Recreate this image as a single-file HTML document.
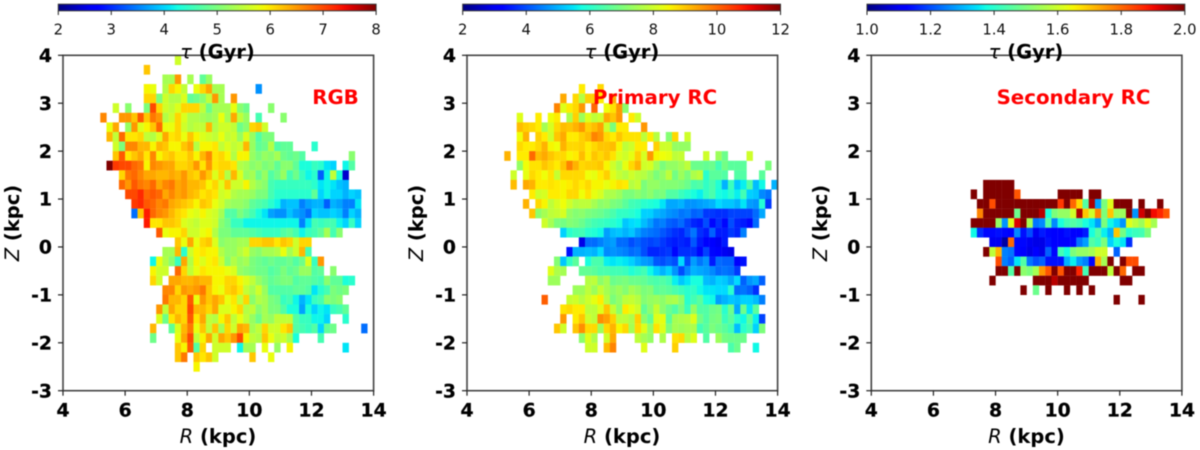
<!DOCTYPE html>
<html>
<head>
<meta charset="utf-8">
<title>Age maps</title>
<style>
html,body{margin:0;padding:0;background:#fff;width:1200px;height:450px;overflow:hidden}
svg{display:block;font-family:"DejaVu Sans","Liberation Sans",sans-serif;filter:blur(0.4px)}
.tk{font-weight:700;font-size:18.8px;fill:#000;stroke:#000;stroke-width:.25px}
.cb{font-size:14.8px;fill:#111}
.lb{font-weight:700;font-size:19.5px;fill:#000}
.it{font-style:italic;font-weight:400}
.tag{font-weight:700;font-size:19.8px;fill:#f00}
</style>
</head>
<body>
<svg id="chart" xmlns="http://www.w3.org/2000/svg" width="1200" height="450" viewBox="0 0 1200 450">
  <rect x="0" y="0" width="1200" height="450" fill="#fff"/>
  <defs id="defs"></defs>
  <g id="marks"></g>

  <text class="lb" x="217.5" y="58.5" text-anchor="middle"><tspan class="it">τ</tspan> (Gyr)</text>
  <text class="lb" x="622" y="58.5" text-anchor="middle"><tspan class="it">τ</tspan> (Gyr)</text>
  <text class="lb" x="1026" y="58.5" text-anchor="middle"><tspan class="it">τ</tspan> (Gyr)</text>

  <text class="lb" x="218" y="443" text-anchor="middle"><tspan class="it">R</tspan> (kpc)</text>
  <text class="lb" x="622" y="443" text-anchor="middle"><tspan class="it">R</tspan> (kpc)</text>
  <text class="lb" x="1026.5" y="443" text-anchor="middle"><tspan class="it">R</tspan> (kpc)</text>

  <text class="lb" transform="translate(19,223) rotate(-90)" text-anchor="middle"><tspan class="it">Z</tspan> (kpc)</text>
  <text class="lb" transform="translate(423,223) rotate(-90)" text-anchor="middle"><tspan class="it">Z</tspan> (kpc)</text>
  <text class="lb" transform="translate(827,223) rotate(-90)" text-anchor="middle"><tspan class="it">Z</tspan> (kpc)</text>

  <text class="tag" x="335.5" y="104" text-anchor="middle">RGB</text>
  <text class="tag" x="655" y="104" text-anchor="middle">Primary RC</text>
  <text class="tag" x="1073.5" y="104" text-anchor="middle">Secondary RC</text>
</svg>
<script>
const _ = null;
const rTicks = [4, 6, 8, 10, 12, 14];
const zTicks = [4, 3, 2, 1, 0, -1, -2, -3];
const rgbBarTicks = [2, 3, 4, 5, 6, 7, 8];
const primaryBarTicks = [2, 4, 6, 8, 10, 12];
const secondaryBarTicks = ["1.0", "1.2", "1.4", "1.6", "1.8", "2.0"];

// Row i covers Z = 4 - 0.2*i downward; first entry of each row sits at R bin given by *FirstBin (R = 4 + 0.2*bin)
const rgbFirstBin = [18,13,16,13,13,8,6,7,7,8,8,7,9,9,10,11,11,13,15,18,16,14,14,14,16,16,15,15,14,14,18,18,21];
const rgbTau = [
[5.6],
[6.2],
[5.3,5.3,6.5,_,5.3,_,4.8,5.2],
[5.9,5.8,_,5.4,6.1,5.9,5.5,_,5.8,6.1,6.4,5.3,5.3,_,_,_,_,_,3.6],
[6.1,6.1,5.0,5.6,5.4,5.4,5.7,4.8,4.9,5.1,5.5,6.5,5.3,_,6.5],
[5.6,_,5.1,_,_,5.0,7.0,6.1,5.6,5.5,5.7,6.1,6.1,6.1,5.5,4.9,5.3,5.3,5.3,5.8,5.1,4.9,_,_,_,5.1],
[6.6,_,_,6.5,6.5,6.2,6.9,6.2,6.7,6.5,5.4,5.6,6.1,5.7,5.4,5.4,5.3,5.2,5.3,5.8,5.3,6.4,5.5,5.2,_,4.6,_,_,_,5.1],
[5.8,6.4,_,5.2,6.5,5.7,5.9,6.2,6.8,5.8,5.8,6.1,5.6,5.4,5.5,5.5,6.3,5.4,5.6,5.6,5.5,4.9,5.1,6.1,6.2,5.6],
[6.3,5.5,6.8,6.0,6.0,6.1,5.5,5.4,5.7,6.4,6.0,6.1,5.8,6.2,5.9,5.7,5.6,5.5,5.8,5.5,5.6,5.2,5.7,5.2,4.7,5.0,5.0],
[5.6,5.0,6.6,6.6,6.3,6.3,5.9,6.3,6.2,5.9,5.9,6.2,6.4,5.4,5.9,5.9,6.0,5.5,5.7,5.5,5.6,6.3,5.2,4.8,4.9,5.4,4.7,4.8,4.8,_,_,_,4.4],
[6.2,6.9,6.0,6.2,6.4,6.0,6.6,5.9,6.1,6.2,6.0,6.0,6.2,5.9,6.3,6.6,6.0,6.1,5.9,5.4,5.9,5.9,5.2,5.0,5.2,5.1,5.3,4.9,4.8,4.9,4.7,_,_,_,_,_,_,_,5.1],
[8.0,7.1,7.0,7.0,6.8,6.7,5.9,6.6,6.5,6.4,6.4,6.1,6.1,6.2,6.5,6.0,6.5,6.0,6.1,6.1,6.0,5.4,5.3,5.1,5.2,5.0,5.1,4.8,5.1,5.1,4.8,4.3,4.3,4.5,4.4,4.1,4.0,_,4.2,4.7],
[6.1,6.7,6.8,6.6,6.4,6.4,6.3,6.3,6.4,6.3,6.5,6.2,6.1,6.5,6.2,5.7,6.1,5.4,6.3,5.7,5.2,5.3,4.9,5.2,4.7,4.9,5.2,4.6,4.9,4.5,4.2,4.4,3.3,4.2,5.5,4.3,2.4],
[6.8,6.5,6.9,6.7,6.6,6.8,6.4,6.6,6.7,6.4,6.5,6.3,6.3,6.2,5.9,6.1,5.7,6.2,5.6,5.6,5.9,5.4,5.2,5.1,4.6,4.5,4.5,4.5,4.5,4.5,4.5,4.4,4.1,4.2,4.1,3.9,3.8],
[7.0,7.0,7.2,6.8,6.9,6.8,6.4,6.6,6.4,6.5,6.3,6.2,6.0,6.1,6.0,5.6,5.7,5.4,5.3,5.3,5.2,5.0,5.0,4.6,4.4,4.4,4.4,4.4,4.4,4.4,4.8,4.0,4.2,4.0,4.0,3.8,4.0,3.9],
[7.1,7.2,6.9,6.8,6.6,6.7,6.4,6.3,6.2,6.1,5.9,6.2,6.1,5.8,5.6,5.3,5.2,5.2,5.1,4.8,4.7,4.6,4.4,4.2,3.8,3.9,3.9,3.5,3.7,3.8,3.8,3.3,3.8,3.7,3.5,3.5,4.1],
[3.4,6.2,7.3,6.8,6.6,6.5,6.3,6.1,6.0,5.8,5.7,5.9,5.7,5.6,5.3,4.7,4.7,5.0,4.8,4.6,4.3,4.1,3.7,3.6,3.6,3.9,3.7,3.6,3.4,4.0,3.9,3.9,4.0,3.9,3.5,4.0,3.8],
[7.3,6.0,6.0,6.2,6.2,6.1,5.7,5.6,5.5,5.7,5.7,5.6,5.1,4.9,4.5,4.5,4.2,4.2,4.2,4.2,4.2,4.2,4.2,4.2,4.2,3.5,4.1,4.6,4.5,4.6,4.6,4.2,4.0,4.5,4.0],
[6.9,5.8,5.9,5.9,6.1,5.6,5.6,5.8,5.9,5.4,5.0,5.0,4.8,4.8,4.8,4.7,4.6,4.5,4.5,4.5,4.7,4.8,4.6,4.2,4.5,4.6,4.8,5.3,4.6,5.1],
[6.2,5.8,6.4,5.8,6.1,6.2,5.7,5.1,5.2,5.2,5.3,5.3,6.1,6.1,6.2,6.2,6.0,6.2,6.1,5.6,6.1,6.1],
[5.3,5.3,6.3,4.4,5.6,5.9,6.0,5.9,5.9,5.4,5.2,5.2,5.4,5.6,5.2,5.1,5.3,5.3,5.4,5.8,5.3,5.6,6.3,4.6],
[4.2,5.8,5.4,5.1,4.5,6.4,5.4,5.9,5.7,5.9,6.0,5.6,5.1,5.4,5.2,5.3,5.0,4.9,4.8,4.9,4.8,4.8,4.9,4.7,4.9,5.7,4.5,6.5],
[5.9,5.6,5.6,_,6.8,6.1,5.5,5.8,6.0,5.9,5.9,5.9,5.8,5.7,5.2,5.1,5.0,4.9,4.9,4.7,4.8,5.0,4.8,4.9,5.2,5.2,4.7,4.8,_,5.1],
[6.1,5.6,_,6.4,6.4,6.3,6.3,6.4,6.3,6.3,5.9,5.9,6.1,6.1,5.9,5.7,5.5,5.2,5.0,4.8,4.9,5.0,5.0,4.7,4.8,4.8,4.7,4.6,5.1,4.8,4.8,4.3,4.4],
[6.6,6.6,6.1,6.5,6.4,6.5,6.7,6.2,5.9,5.8,6.1,6.2,6.0,5.5,5.3,5.6,5.2,4.7,4.7,4.7,4.7,4.8,4.8,4.7,4.1,4.4,4.6,5.0,4.9,5.0],
[6.7,6.3,6.3,6.1,6.9,5.8,6.5,6.2,6.4,6.2,5.8,6.0,5.5,6.1,5.1,5.4,5.3,5.0,4.9,4.5,4.6,4.2,3.8,4.1,4.5,4.6,5.1,5.0,5.1],
[6.5,5.5,6.4,6.1,6.1,7.0,6.3,6.3,6.1,6.4,5.7,5.7,5.9,6.1,5.4,5.5,5.1,5.3,5.0,5.0,4.7,4.3,4.3,3.7,4.3,4.0,4.2,4.1,4.5,4.6,4.8],
[5.7,4.9,6.0,6.3,6.1,6.9,6.0,6.4,5.5,5.4,5.9,6.2,5.5,5.8,5.5,5.2,4.9,5.3,5.2,5.5,5.5,5.5,4.7,4.5,4.5,4.2,4.2,4.0,_,_,4.4],
[6.3,_,_,4.8,5.7,6.3,6.7,5.8,6.2,5.5,6.2,5.3,6.1,5.6,6.4,6.3,5.3,5.5,6.1,5.6,5.6,6.0,6.2,4.7,4.6,4.5,4.7,4.0,4.8,4.9,_,_,_,_,3.4],
[4.9,_,_,_,5.8,6.4,7.0,5.5,5.9,6.4,5.6,6.4,6.2,6.5,7.0,5.9,5.5,5.4,6.2,5.8,5.5,5.6,5.3,4.3,_,_,_,4.6],
[6.2,5.9,6.9,4.7,6.1,_,5.6,5.6,5.6,_,4.2,5.3,5.3,_,5.8,_,5.2,_,5.9,_,_,_,_,_,_,_,_,4.1],
[6.2,6.7,_,6.2,6.0,6.2,5.6,_,_,_,_,_,6.2,_,_,5.8],
[5.9]
];

const primaryFirstBin = [0,0,0,18,15,14,8,8,8,8,6,8,7,7,10,9,10,12,15,18,16,14,13,13,17,12,15,15,14,18,19];
const primaryTau = [
[],
[],
[],
[8.6,_,_,8.8],
[9.3,_,8.8,7.7,8.9,8.9,8.6,_,9.3],
[9.7,8.2,8.6,8.8,9.5,_,10.0,_,8.4,8.7,9.5,7.2],
[8.2,_,_,8.6,_,8.4,8.6,_,7.6,8.9,7.4,8.2,7.8,8.0,9.3,9.0,9.5,_,8.6,8.0],
[9.1,8.9,8.8,8.6,7.5,8.1,8.8,9.1,9.0,9.2,9.5,8.9,9.1,9.4,8.0,7.0,8.6,8.6,_,_,9.5],
[8.4,9.2,_,8.9,8.6,8.0,9.0,9.3,8.6,8.6,8.9,9.1,9.7,9.5,8.8,8.6,9.0,8.7,8.7,8.7,7.8,8.6,7.7,_,7.1,8.8,_,8.0],
[8.8,8.6,8.6,8.8,9.2,8.5,8.4,9.2,8.8,8.8,8.9,8.6,8.8,9.0,9.0,9.1,8.5,7.8,8.0,8.6,8.6,_,8.9,8.0,8.0,7.3,7.3,7.3],
[9.2,_,8.6,8.6,10.0,9.1,9.3,9.0,8.8,8.8,8.5,8.6,9.1,8.6,9.0,8.8,9.0,8.7,8.2,8.0,8.3,8.9,8.1,9.5,8.5,8.4,8.3,7.8,7.9,_,_,_,8.0,_,7.4,6.8,_,_,_,8.0],
[7.3,8.4,8.7,8.7,9.0,8.8,8.6,9.0,9.7,9.2,8.8,8.9,8.9,9.0,8.5,8.0,7.6,8.3,8.8,9.2,8.0,8.1,7.5,7.0,7.3,7.3,7.5,7.8,6.8,6.8,6.7,6.8,6.3,6.9,6.6,6.6,6.6,_,_,_,7.0],
[8.0,_,8.3,8.8,8.6,8.4,8.7,7.9,8.8,8.8,8.8,8.8,8.4,8.3,8.6,8.9,8.2,7.9,7.7,8.0,7.8,7.7,7.4,7.0,7.3,7.8,6.9,7.4,7.0,7.6,7.8,6.0,6.6,6.6,6.5,_,6.5,6.5,_,_,6.6],
[9.1,_,9.3,9.2,8.6,8.6,8.7,8.6,8.5,8.6,8.8,8.6,8.8,8.5,8.5,8.3,8.5,8.7,8.6,7.7,7.9,7.0,7.3,7.3,7.1,7.1,7.1,7.0,6.8,6.4,6.5,6.1,6.4,5.9,5.0,6.2,5.2,5.6,6.5,5.1,5.7,_,5.0],
[8.6,8.0,8.1,8.6,8.6,8.5,8.8,8.8,8.4,8.7,8.3,8.1,7.6,7.6,7.4,7.0,7.0,7.2,7.0,7.2,6.9,7.0,6.5,6.5,6.2,6.0,5.8,5.6,6.1,6.4,5.8,5.7,6.0,5.6,6.3,5.3,5.2,4.6,4.4],
[9.2,_,8.8,8.5,7.8,8.1,8.4,8.0,7.7,7.8,7.8,7.5,7.2,7.3,7.0,6.9,6.6,6.3,6.2,6.0,5.9,5.8,5.5,4.9,4.9,5.0,4.7,4.7,4.8,4.9,5.0,5.4,5.2,5.2,5.0,5.5,4.8,4.7,5.9,3.8],
[9.0,7.2,7.5,7.8,7.9,8.1,7.3,7.1,7.2,7.0,6.9,6.8,6.6,6.4,6.1,6.1,6.0,5.8,5.3,5.3,5.0,4.9,4.7,4.6,4.4,4.5,4.2,4.3,3.8,3.8,3.7,3.7,3.9,3.9,3.9,3.9,4.3,4.9],
[8.0,7.5,7.0,6.9,7.1,7.0,6.8,6.5,6.3,6.2,6.1,6.0,5.8,5.2,5.4,5.5,5.1,4.8,4.4,4.5,4.2,4.1,4.3,3.9,3.6,3.5,4.0,3.3,3.7,3.3,4.0,3.6,3.5,3.3,4.3],
[5.3,6.0,6.2,6.3,6.0,5.9,5.7,4.8,5.1,5.2,5.0,5.2,4.8,4.5,4.4,4.3,4.1,3.9,3.7,3.6,4.0,4.4,3.7,3.5,4.2,3.5,3.5,3.8,3.6,4.5],
[2.9,4.3,4.3,4.5,4.7,4.8,4.3,4.3,4.0,4.2,4.0,3.9,4.0,3.8,3.6,3.5,3.6,3.5,4.1,3.5,3.2,3.2,3.0,3.5],
[3.4,5.0,5.0,5.1,5.0,5.4,4.6,4.7,4.6,4.5,4.3,4.4,4.0,3.6,3.6,3.7,3.8,3.3,3.7,3.7,3.7,3.3,3.9,3.3,3.2,3.0,2.9],
[7.1,5.2,6.1,6.6,_,5.8,6.4,6.4,5.6,5.5,5.6,5.5,5.3,5.0,4.8,4.7,4.1,4.0,4.2,4.0,5.4,4.0,4.8,4.4,4.7,3.5,4.3,4.2,4.2,3.2,3.4],
[8.2,7.6,7.5,_,_,6.7,6.7,6.6,6.4,6.4,6.3,6.3,6.2,5.9,6.1,6.3,5.7,5.3,5.0,5.3,4.7,4.0,4.6,5.0,4.9,4.8,4.6,4.3,4.4,4.3,3.8],
[7.4,7.4,_,_,_,_,7.7,7.8,7.2,7.5,6.8,6.9,7.0,6.8,6.8,6.7,6.5,6.4,6.5,6.3,5.6,5.2,5.5,5.8,5.8,5.1,5.0,5.3,5.2,4.9,5.4,4.2,4.7,4.9,4.2],
[7.4,7.4,7.8,7.4,7.9,7.5,7.2,7.4,7.1,7.5,7.3,7.0,7.1,6.6,6.7,6.6,6.4,6.2,6.0,6.1,5.7,5.5,5.5,5.4,5.4,6.0,4.3,4.4,4.2,3.7],
[10.1,_,_,_,7.9,8.0,7.7,8.0,8.3,8.6,7.7,7.0,7.3,7.8,7.9,7.7,7.1,7.3,7.4,7.2,7.5,7.6,7.2,6.0,6.3,6.6,5.8,5.7,4.8,5.0,5.2,5.1,5.3,5.3,5.1,4.5],
[8.7,8.8,8.6,8.6,7.8,7.8,8.2,9.0,7.9,7.2,8.6,8.3,8.0,6.7,7.2,7.9,7.2,6.8,6.5,7.0,6.2,7.3,6.5,6.5,6.8,6.9,6.0,6.8,4.9,6.8,5.5,6.6],
[9.5,_,8.6,9.0,8.0,7.8,9.6,9.4,8.9,7.8,7.8,7.6,8.9,7.2,6.7,8.2,8.3,6.6,7.5,7.6,7.7,8.2,6.9,6.5,6.9,7.0,6.2,6.6,6.0,5.7,6.6,5.6,3.9],
[9.0,8.0,_,9.0,9.6,8.8,8.8,7.4,8.8,9.2,8.5,8.8,7.5,8.8,8.2,7.3,8.7,8.2,7.0,7.5,7.4,7.5,7.6,6.3,6.6,7.0,6.8,6.6,6.3,5.1,6.0,6.3,5.3,7.0],
[7.2,8.2,7.6,_,8.0,9.3,_,_,_,7.8,7.5,7.3,_,7.6,_,8.7,8.8,7.7,8.2,_,6.5,_,7.4,6.9,6.8,6.8,6.8],
[8.0,8.0,_,9.1,9.7,_,_,_,_,8.2,_,_,_,_,8.9,_,_,_,_,_,_,_,_,6.4,6.8,_,_,5.7]
];

const secondaryFirstBin = [0,0,0,0,0,0,0,0,0,0,0,0,0,18,16,17,17,16,16,19,18,20,20,19,24,39];
const secondaryTau = [
[],[],[],[],[],[],[],[],[],[],[],[],[],
[2,2,2,2,2],
[2,_,2,2,2,2,2,1.82,_,_,_,_,_,_,2,2,2,2,_,2,2],
[2,2,1.83,2,2,2,2,2,2,2,2,2,2,1.85,2,1.8,1.68,1.45,1.96,1.28,1.5,1.62,2,2,2,_,2,_,_,2],
[1.77,2,2,2,2,2,1.48,2,2,2,1.95,1.38,1.5,1.53,1.53,1.6,1.96,1.7,1.6,1.77,1.5,1.7,1.54,1.54,2,1.27,1.93,2,1.9,1.87,1.82],
[2,2,2,2,1.53,1.27,1.62,1.92,2,1.55,1.24,1.26,1.45,1.26,1.38,1.43,1.45,1.43,1.38,1.35,1.28,1.5,1.37,1.33,1.27,1.62,1.58,1.54,1.62,1.55],
[1.37,1.17,1.13,1.13,1.14,1.13,1.12,1.26,1.14,1.2,1.1,1.15,1.13,1.11,1.12,1.14,1.12,1.12,1.15,1.38,1.45,1.36,1.3,1.7,1.49,1.4,1.42,1.43,1.5],
[1.1,1.1,1.03,1.8,1.13,1.13,1.1,1.09,1.09,1.14,1.12,1.12,1.12,1.13,1.24,1.28,1.45,1.42,1.5,1.33,1.38,1.35,1.17],
[2,1.58,1.72,1.25,1.24,1.13,1.11,1.09,1.12,1.09,1.22,1.13,1.43,1.38,1.5,1.53,1.53,1.55,1.6,1.6,_,1.22],
[1.83,1.25,1.22,1.35,1.45,1.24,1.2,1.22,1.14,1.14,1.14,1.3,1.36,1.28,1.25,1.13,1.72,1.55,2,_,2,1.83,1.83],
[2,2,1.45,2,1.52,1.5,1.55,1.75,1.82,2,1.82,2,2,1.87,1.43,2,2,2,1.58,2,1.8,_,2,2],
[2,_,_,_,_,_,_,2,2,2,1.95,2,2,2,2,2,_,_,_,_,_,2,2],
[2,_,1.48,_,2,_,_,2,_,2,_,2],
[2,_,_,_,2]
];

const axesLeft = [63, 467, 871.3];
const axesWidth = 310.6;
const axesTop = 55.3;
const axesHeight = 335.4;
const barLeft = [58.3, 462.7, 867];
const barWidth = 317.8;
const cellR = 0.2;
const cellZ = 0.2;
const rLow = 4, rHigh = 14, zHigh = 4, zLow = -3;

const SVG = 'http://www.w3.org/2000/svg';
const marks = document.getElementById('marks');
const defs = document.getElementById('defs');

function lerpTable(t, tbl) {
  for (let i = 1; i < tbl.length; i++) {
    if (t <= tbl[i][0]) {
      const a = tbl[i - 1], b = tbl[i];
      return a[1] + (b[1] - a[1]) * (t - a[0]) / (b[0] - a[0]);
    }
  }
  return tbl[tbl.length - 1][1];
}
function jet(t) {
  t = Math.max(0, Math.min(1, t));
  const r = lerpTable(t, [[0,0],[0.35,0],[0.66,1],[0.89,1],[1,0.5]]);
  const g = lerpTable(t, [[0,0],[0.125,0],[0.375,1],[0.64,1],[0.91,0],[1,0]]);
  const b = lerpTable(t, [[0,0.5],[0.11,1],[0.34,1],[0.65,0],[1,0]]);
  return 'rgb(' + Math.round(r * 255) + ',' + Math.round(g * 255) + ',' + Math.round(b * 255) + ')';
}
function mk(tag, attrs, parent) {
  const el = document.createElementNS(SVG, tag);
  for (const k in attrs) el.setAttribute(k, attrs[k]);
  parent.appendChild(el);
  return el;
}
function drawHeat(left, firstBin, tau, vmin, vmax, g) {
  const sx = r => left + (r - rLow) / (rHigh - rLow) * axesWidth;
  const sy = z => axesTop + (zHigh - z) / (zHigh - zLow) * axesHeight;
  tau.forEach((row, i) => {
    const zUp = zHigh - i * cellZ;
    row.forEach((v, j) => {
      if (v === null) return;
      const rL = rLow + (firstBin[i] + j) * cellR;
      const x0 = sx(rL), x1 = sx(rL + cellR), y0 = sy(zUp), y1 = sy(zUp - cellZ);
      const c = mk('rect', {x: x0.toFixed(2), y: y0.toFixed(2), width: (x1 - x0 + 0.15).toFixed(2), height: (y1 - y0 + 0.15).toFixed(2), fill: jet((v - vmin) / (vmax - vmin))}, g);
      
      
    });
  });
}
function drawAxes(left, g) {
  const sx = r => left + (r - rLow) / (rHigh - rLow) * axesWidth;
  const sy = z => axesTop + (zHigh - z) / (zHigh - zLow) * axesHeight;
  const frame = mk('rect', {x: left, y: axesTop, width: axesWidth, height: axesHeight, fill: 'none', stroke: '#444', 'stroke-width': 1.6}, g);
  
  
  rTicks.forEach(r => {
    const t = mk('line', {x1: sx(r), x2: sx(r), y1: axesTop + axesHeight, y2: axesTop + axesHeight + 5, stroke: '#222', 'stroke-width': 1.2}, g);
    
    
    const l = mk('text', {x: sx(r), y: 416.5, 'text-anchor': 'middle', class: 'tk'}, g);
    l.textContent = r;
    
    
  });
  zTicks.forEach(z => {
    const t = mk('line', {x1: left - 5, x2: left, y1: sy(z), y2: sy(z), stroke: '#222', 'stroke-width': 1.2}, g);
    
    
    const l = mk('text', {x: left - 11, y: sy(z) + 6.7, 'text-anchor': 'end', class: 'tk'}, g);
    l.textContent = z;
    
    
  });
}
function drawBar(index, ticks, vmin, vmax, g) {
  const left = barLeft[index];
  const id = 'jet' + index;
  const grad = mk('linearGradient', {id: id, x1: 0, x2: 1, y1: 0, y2: 0}, defs);
  for (let k = 0; k <= 40; k++) {
    mk('stop', {offset: k / 40, 'stop-color': jet(k / 40)}, grad);
  }
  const bar = mk('rect', {x: left, y: 4.2, width: barWidth, height: 6.6, fill: 'url(#' + id + ')', stroke: '#333', 'stroke-width': 1}, g);
  
  
  ticks.forEach(v => {
    const x = left + (Number(v) - vmin) / (vmax - vmin) * barWidth;
    const t = mk('line', {x1: x, x2: x, y1: 10.8, y2: 15, stroke: '#222', 'stroke-width': 1}, g);
    
    
    const l = mk('text', {x: x, y: 34.4, 'text-anchor': 'middle', class: 'cb'}, g);
    l.textContent = v;
    
    
  });
}

const panelA = mk('g', {}, marks);


const panelB = mk('g', {}, marks);


const panelC = mk('g', {}, marks);



drawHeat(axesLeft[0], rgbFirstBin, rgbTau, 2, 8, panelA);
drawAxes(axesLeft[0], panelA);
drawBar(0, rgbBarTicks, 2, 8, panelA);

drawHeat(axesLeft[1], primaryFirstBin, primaryTau, 2, 12, panelB);
drawAxes(axesLeft[1], panelB);
drawBar(1, primaryBarTicks, 2, 12, panelB);

drawHeat(axesLeft[2], secondaryFirstBin, secondaryTau, 1, 2, panelC);
drawAxes(axesLeft[2], panelC);
drawBar(2, secondaryBarTicks, 1, 2, panelC);
</script>
</body>
</html>
